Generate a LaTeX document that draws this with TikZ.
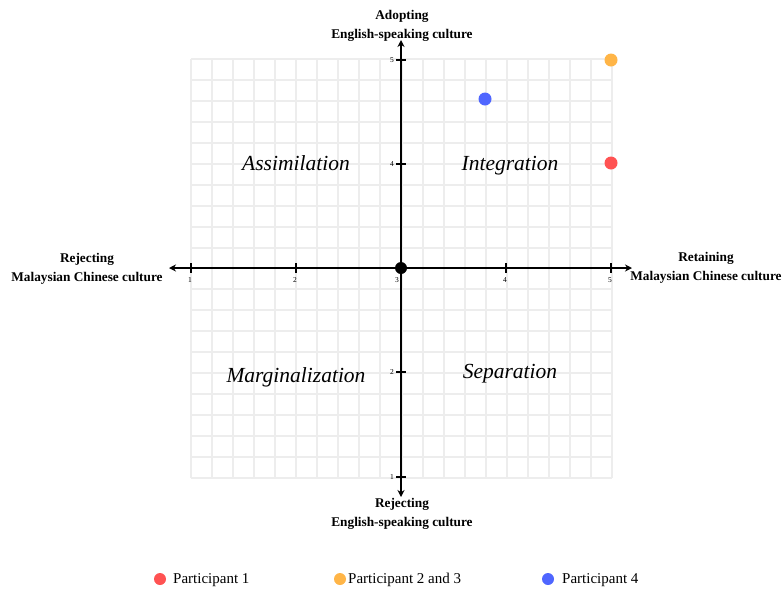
\documentclass[tikz,border=0pt]{standalone}
\usepackage{fontspec}
\setmainfont{Liberation Serif}
\usetikzlibrary{arrows.meta}
\definecolor{pred}{HTML}{FF5252}
\definecolor{porange}{HTML}{FFB547}
\definecolor{pblue}{HTML}{4F66FF}
\definecolor{gridgray}{HTML}{EDEDED}
\tikzset{
  gridline/.style={gridgray, line width=2pt},
  axisline/.style={black, line width=1.8pt, {Stealth[length=7pt,width=7pt]}-{Stealth[length=7pt,width=7pt]}},
  tickmark/.style={black, line width=1.2pt},
  ticklabel/.style={font=\fontsize{7.5}{8}\selectfont, inner sep=0pt},
  axislabel/.style={font=\fontsize{13.3}{19.5}\selectfont\bfseries, align=center, inner sep=0pt},
  quadlabel/.style={font=\fontsize{21.5}{24}\selectfont\itshape, inner sep=0pt},
  legendtext/.style={font=\fontsize{15}{16}\selectfont, inner sep=0pt, anchor=west},
  datadot/.style={circle, inner sep=0pt, minimum size=13pt},
}
\begin{document}
\begin{tikzpicture}[x=1pt,y=-1pt]
\useasboundingbox (0,0) rectangle (782,590);
% grid
\foreach \i in {0,...,20} {
  \draw[gridline] ({round(191+21.05*\i)},59) -- ({round(191+21.05*\i)},478);
  \draw[gridline] (191,{round(59+20.95*\i)}) -- (612,{round(59+20.95*\i)});
}
% axes
\coordinate (xl) at (169,268);
\coordinate (xr) at (632,268);
\coordinate (yt) at (401,40);
\coordinate (yb) at (401,497);
\draw[axisline] (xl) -- (xr);
\draw[axisline] (yb) -- (yt);
% x ticks
\foreach \v/\px in {1/191,2/296,3/401,4/506,5/611} {
  \draw[tickmark] (\px,263) -- (\px,273);
}
\foreach \v/\px in {1/191,2/296,4/506,5/611} {
  \node[ticklabel] (xt\v) at (\px-1,280) {\v};
}
\node[ticklabel] (xt3) at (397,280) {3};
% y ticks
\foreach \v/\py in {5/60,4/164,2/372,1/477} {
  \draw[tickmark] (396,\py) -- (406,\py);
  \node[ticklabel] (yt\v) at (392,\py) {\v};
}
% origin
\node[datadot, fill=black, minimum size=12pt] (origin) at (401,268) {};
% axis labels
\node[axislabel] (top) at (402,26) {Adopting\\English-speaking culture};
\node[axislabel] (bottom) at (402,514) {Rejecting\\English-speaking culture};
\node[axislabel] (left) at (87,269) {Rejecting\\Malaysian Chinese culture};
\node[axislabel] (right) at (706,268) {Retaining\\Malaysian Chinese culture};
% quadrant labels
\node[quadlabel] (assim) at (296,163) {Assimilation};
\node[quadlabel] (integ) at (510,166) {Integration};
\node[quadlabel] (margin) at (296,377) {Marginalization};
\node[quadlabel] (separ) at (510,374) {Separation};
% data points
\node[datadot, fill=pred] (p1) at (611,163) {};
\node[datadot, fill=porange] (p23) at (611,60) {};
\node[datadot, fill=pblue] (p4) at (485,99) {};
% legend
\node[datadot, fill=pred, minimum size=12pt] (l1) at (160,579) {};
\node[legendtext] (lt1) at (173,580) {Participant 1};
\node[datadot, fill=porange, minimum size=12pt] (l23) at (340,579) {};
\node[legendtext] (lt23) at (348,580) {Participant 2 and 3};
\node[datadot, fill=pblue, minimum size=12pt] (l4) at (548,579) {};
\node[legendtext] (lt4) at (562,580) {Participant 4};
\end{tikzpicture}
\end{document}
